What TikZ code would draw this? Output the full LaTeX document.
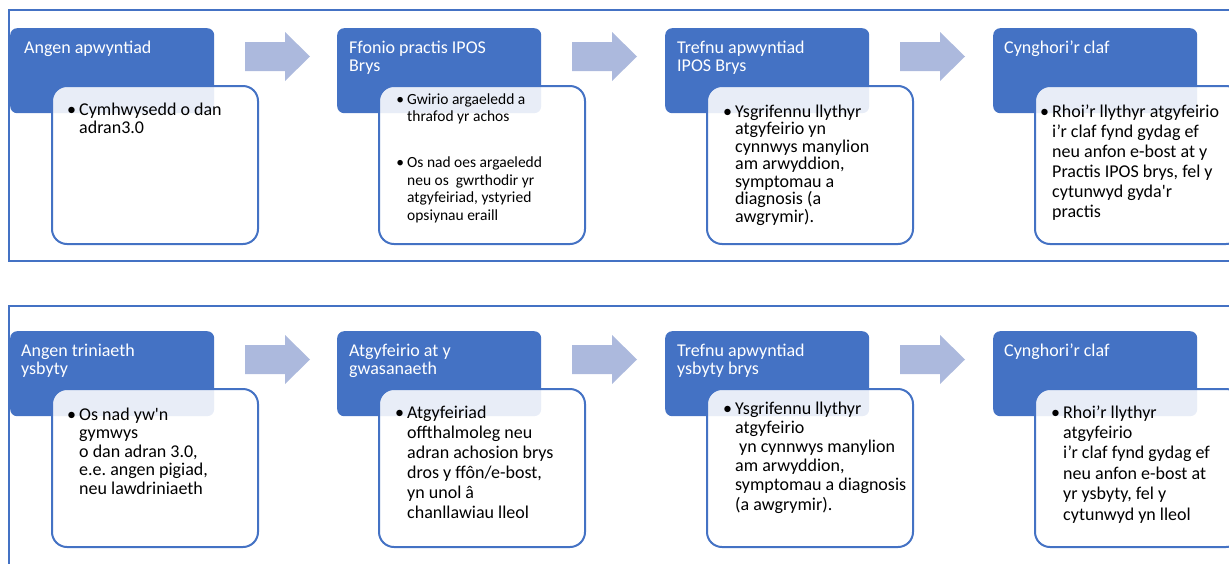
\documentclass[tikz,border=0pt]{standalone}
\usepackage{fontspec}
\setmainfont{Carlito}
\definecolor{ofblue}{RGB}{68,114,196}
\definecolor{arrowblue}{RGB}{172,185,221}
\newcommand{\itembul}{\llap{\textbullet\hspace{3pt}}}
\newcommand{\sq}{\textquotesingle}
\tikzset{
 band/.style={draw=ofblue, line width=1.8pt},
 stage/.style={rectangle, rounded corners=7pt, fill=ofblue, minimum width=204pt, minimum height=85pt, anchor=north west, inner sep=0pt},
 detail/.style={rectangle, rounded corners=15pt, draw=ofblue, line width=2pt, fill=white, fill opacity=0.88, minimum width=206pt, minimum height=158pt, anchor=north west, inner sep=0pt},
 flowarrow/.style={fill=arrowblue},
 % multi-line nodes sit on the baseline of their last line
 heading/.style={anchor=base west, align=left, inner sep=0pt, text=white, font=\fontsize{18}{18}\selectfont},
 points/.style={anchor=base west, align=left, inner sep=0pt, font=\fontsize{18}{#1}\selectfont},
 points/.default=18,
}
\begin{document}
\begin{tikzpicture}[x=1pt,y=-1pt]
\useasboundingbox (0,0) rectangle (1229,563);
\draw[band] (9,10) rectangle (1240,261);
\draw[band] (9,306) rectangle (1240,600);
\foreach \row/\r in {1/0,2/303} {
 \foreach \col/\x in {1/10,2/337,3/665,4/993} {
  \node[stage] (st\row\col) at (\x,{28+\r}) {};
  \node[detail] (dt\row\col) at ({\x+41},{85+\r}) {};
 }
 \foreach \x in {245,572,900}
  \fill[flowarrow] (\x,{42+\r}) -- ++(40,0) -- ++(0,-10) -- ++(25,24.5) -- ++(-25,24.5) -- ++(0,-10) -- ++(-40,0) -- cycle;
}
% first row
\node[heading] (h11) at (24,53) {Angen apwyntiad};
\node[heading] (h12) at (349,71) {Ffonio practis IPOS\\Brys};
\node[heading] (h13) at (677,71) {Trefnu apwyntiad\\IPOS Brys};
\node[heading] (h14) at (1004,53) {Cynghori’r claf};
\node[points] (p11) at (79,133) {\itembul Cymhwysedd o dan\\adran3.0};
\node[points, font=\fontsize{15.5}{17.4}\selectfont] (p12) at (407,220) {\itembul Gwirio argaeledd a\\thrafod yr achos\\[28.6pt]\itembul Os nad oes argaeledd\\neu os\ \ gwrthodir yr\\atgyfeiriad, ystyried\\opsiynau eraill};
\node[points=17.5] (p13) at (735,222) {\itembul Ysgrifennu llythyr\\atgyfeirio yn\\cynnwys manylion\\am arwyddion,\\symptomau a\\diagnosis (a\\awgrymir).};
\node[points=20] (p14) at (1052,217) {\itembul Rhoi’r llythyr atgyfeirio\\i’r claf fynd gydag ef\\neu anfon e-bost at y\\Practis IPOS brys, fel y\\cytunwyd gyda\sq r\\practis};
% second row
\node[heading] (h21) at (21,374) {Angen triniaeth\\ysbyty};
\node[heading] (h22) at (349,374) {Atgyfeirio at y\\gwasanaeth};
\node[heading] (h23) at (677,374) {Trefnu apwyntiad\\ysbyty brys};
\node[heading] (h24) at (1004,356) {Cynghori’r claf};
\node[points=18.5] (p21) at (79,494) {\itembul Os nad yw\sq n\\gymwys\\o dan adran 3.0,\\e.e.\ angen pigiad,\\neu lawdriniaeth};
\node[points=20] (p22) at (407,518) {\itembul Atgyfeiriad\\offthalmoleg neu\\adran achosion brys\\dros y ffôn/e-bost,\\yn unol â\\chanllawiau lleol};
\node[points=19.2] (p23) at (735,510) {\itembul Ysgrifennu llythyr\\atgyfeirio\\\hspace{4pt}yn cynnwys manylion\\am arwyddion,\\symptomau a diagnosis\\(a awgrymir).};
\node[points=20.4] (p24) at (1063,520) {\itembul Rhoi’r llythyr\\atgyfeirio\\i’r claf fynd gydag ef\\neu anfon e-bost at\\yr ysbyty, fel y\\cytunwyd yn lleol};
\end{tikzpicture}
\end{document}
